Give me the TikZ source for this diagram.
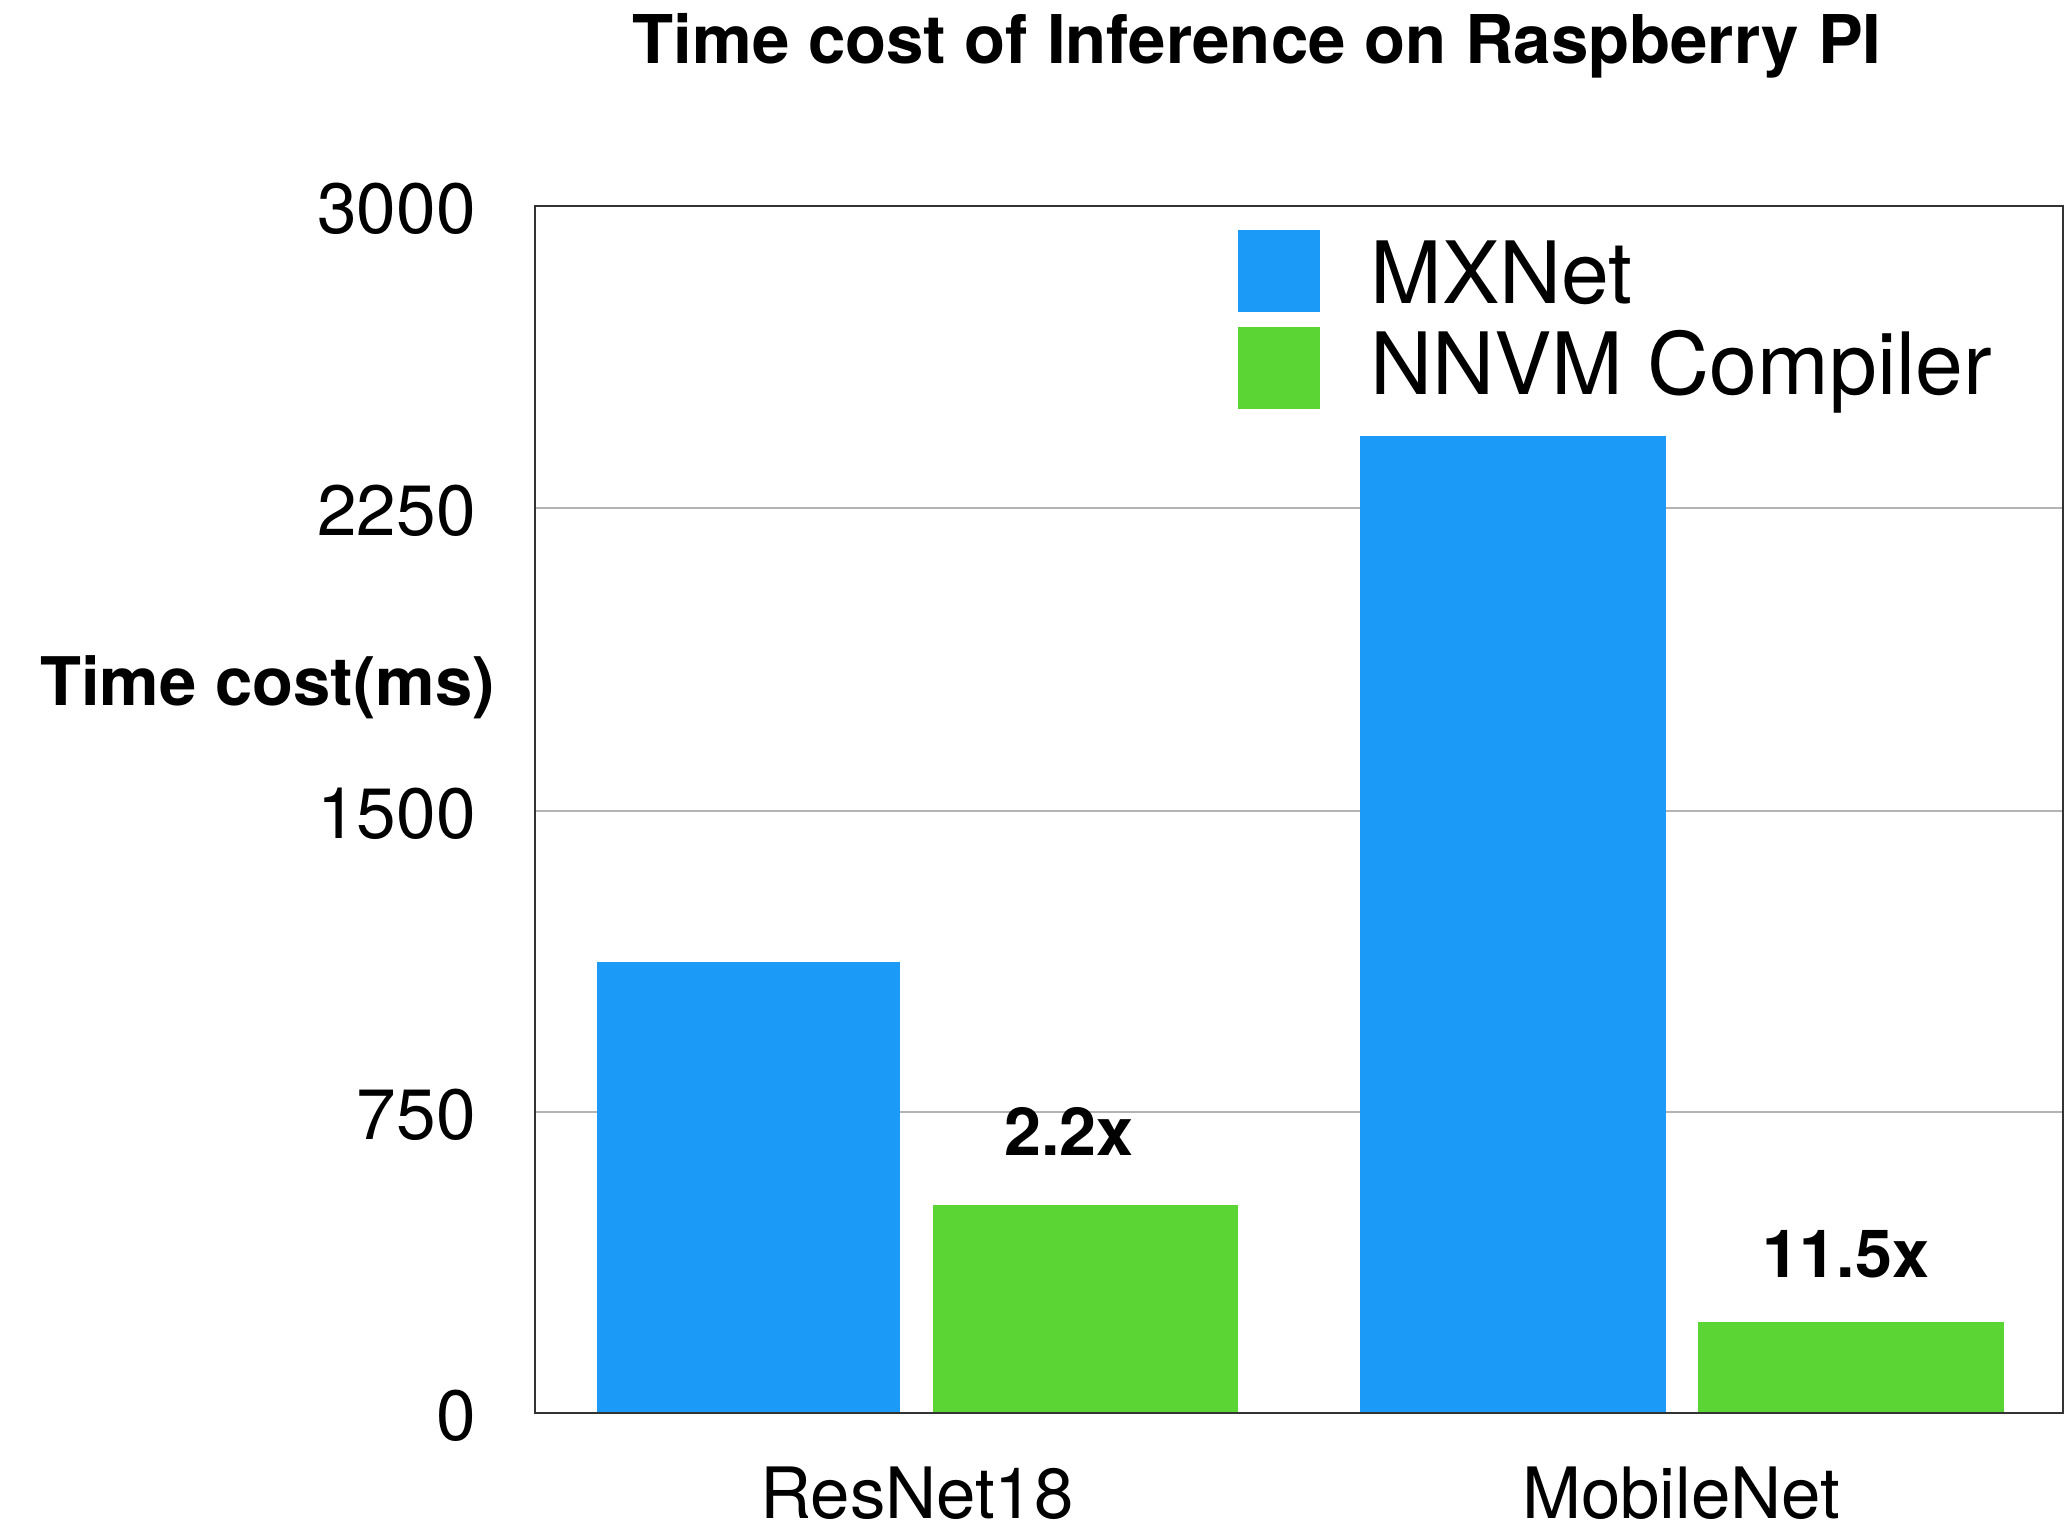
\documentclass[tikz,border=0pt]{standalone}
\usepackage{fontspec}
\setmainfont{TeX Gyre Heros}
\usetikzlibrary{positioning}
\definecolor{mxblue}{HTML}{1B9AF7}
\definecolor{nnvmgreen}{HTML}{5AD534}
\definecolor{gridgray}{HTML}{B4B4B4}

\begin{document}
\begin{tikzpicture}[
                    x=0.5pt, y=-0.5pt,
                    every node/.style={inner sep=0pt},
                    tick label/.style={anchor=east, font=\fontsize{35.6}{38}\selectfont},
                    cat label/.style={anchor=base, font=\fontsize{35.4}{38}\selectfont},
                    legend label/.style={anchor=west, font=\fontsize{43}{48}\selectfont},
                    gain label/.style={font=\bfseries\fontsize{33.2}{36}\selectfont},
                    grid line/.style={draw=gridgray, line width=1.4pt},
                    mxbar/.style={fill=mxblue},
                    nnvmbar/.style={fill=nnvmgreen}
                  ]
  \useasboundingbox (0,0) rectangle (2070,1527);
  % title
  \node[font=\bfseries\fontsize{33.6}{36}\selectfont] (title) at (1257,46) {Time cost of Inference on Raspberry PI};
  % grid and y ticks
  \foreach \val/\ypos in {750/1112, 1500/811, 2250/508} {
      \draw[grid line] (535,\ypos) -- (2063,\ypos);
    }
  \foreach \val/\ypos in {0/1413, 750/1112, 1500/811, 2250/508, 3000/206} {
      \node[tick label] (tick\val) at (476,\ypos+3) {\val};
    }
  \node[font=\bfseries\fontsize{33.5}{36}\selectfont, anchor=east] (ylabel) at (495,687) {Time cost(ms)};
  % bars
  \path[mxbar] (597,1413) rectangle (900,962);
  \path[nnvmbar] (933,1413) rectangle (1238,1205);
  \path[mxbar] (1360,1413) rectangle (1666,436);
  \path[nnvmbar] (1698,1413) rectangle (2004,1322);
  \node[gain label] (gainres) at (1069,1131) {2.2x};
  \node[gain label] (gainmob) at (1846,1254) {11.5x};
  % frame
  \draw[line width=1.1pt, black!80] (535,206) rectangle (2063,1413);
  % legend
  \path[mxbar] (1238,230) rectangle (1320,312);
  \path[nnvmbar] (1238,327) rectangle (1320,409);
  \node[legend label] (legmx) at (1370,273) {MXNet};
  \node[legend label] (legnnvm) at (1370,372) {NNVM Compiler};
  % categories
  \node[cat label] (catres) at (917,1518) {ResNet18};
  \node[cat label] (catmob) at (1681,1518) {MobileNet};
\end{tikzpicture}
\end{document}
